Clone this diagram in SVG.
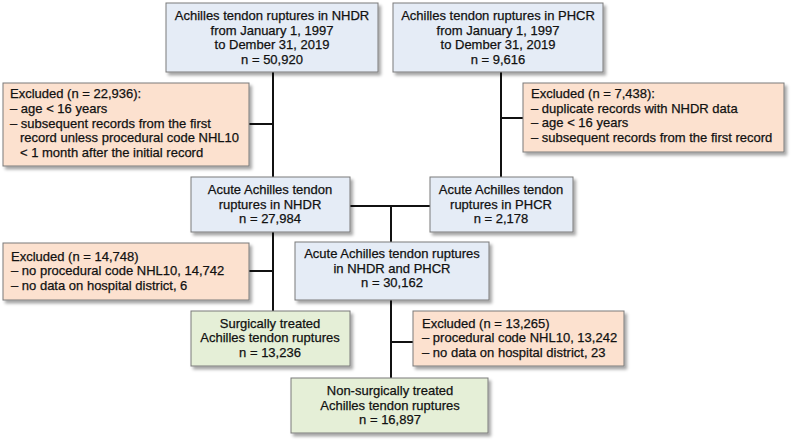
<svg xmlns="http://www.w3.org/2000/svg" width="795" height="445" viewBox="0 0 795 445">
<defs>
<filter id="sh" x="-10%" y="-10%" width="130%" height="140%">
<feDropShadow dx="2.5" dy="3" stdDeviation="1.8" flood-color="#000" flood-opacity="0.35"/>
</filter>
<style>
rect.b{fill:#e5ecf6;stroke:#7a7a7a;stroke-width:1}
rect.o{fill:#fce1cf;stroke:#7a7a7a;stroke-width:1}
rect.g{fill:#e5efd7;stroke:#7a7a7a;stroke-width:1}
text{font-family:"Liberation Sans",Arial,sans-serif;font-size:13px;fill:#111;stroke:#111;stroke-width:0.25}
.c{text-anchor:middle}
.ln{stroke:#111;stroke-width:2;fill:none}
</style>
</defs>
<rect width="795" height="445" fill="#fff"/>
<g id="connectors">
<path class="ln" d="M273 72V177M249 124H273"/>
<path class="ln" d="M501 72V177M501 118H523"/>
<path class="ln" d="M350 206H430M391 206V242"/>
<path class="ln" d="M273 232V311M249 271H273"/>
<path class="ln" d="M391 300V378M391 342H413"/>
</g>
<g id="n1">
<rect class="b" x="166" y="3" width="212" height="69" filter="url(#sh)"/>
<text class="c" x="272" y="20">Achilles tendon ruptures in NHDR</text>
<text class="c" x="272" y="35">from January 1, 1997</text>
<text class="c" x="272" y="49">to Dember 31, 2019</text>
<text class="c" x="272" y="64">n = 50,920</text>
</g>
<g id="n2">
<rect class="b" x="393" y="3" width="210" height="69" filter="url(#sh)"/>
<text class="c" x="498" y="20">Achilles tendon ruptures in PHCR</text>
<text class="c" x="498" y="35">from January 1, 1997</text>
<text class="c" x="498" y="49">to Dember 31, 2019</text>
<text class="c" x="498" y="64">n = 9,616</text>
</g>
<g id="e1">
<rect class="o" x="3" y="83" width="246" height="83" filter="url(#sh)"/>
<text x="10" y="98">Excluded (n = 22,936):</text>
<text x="10" y="113">– age &lt; 16 years</text>
<text x="10" y="128">– subsequent records from the first</text>
<text x="20" y="142">record unless procedural code NHL10</text>
<text x="20" y="157">&lt; 1 month after the initial record</text>
</g>
<g id="e2">
<rect class="o" x="523" y="83" width="261" height="69" filter="url(#sh)"/>
<text x="531" y="98">Excluded (n = 7,438):</text>
<text x="531" y="113">– duplicate records with NHDR data</text>
<text x="531" y="127">– age &lt; 16 years</text>
<text x="531" y="142">– subsequent records from the first record</text>
</g>
<g id="n3">
<rect class="b" x="191" y="177" width="159" height="55" filter="url(#sh)"/>
<text class="c" x="270" y="194">Acute Achilles tendon</text>
<text class="c" x="270" y="209">ruptures in NHDR</text>
<text class="c" x="270" y="223">n = 27,984</text>
</g>
<g id="n4">
<rect class="b" x="430" y="177" width="143" height="55" filter="url(#sh)"/>
<text class="c" x="501" y="194">Acute Achilles tendon</text>
<text class="c" x="501" y="209">ruptures in PHCR</text>
<text class="c" x="501" y="223">n = 2,178</text>
</g>
<g id="e3">
<rect class="o" x="3" y="243" width="246" height="57" filter="url(#sh)"/>
<text x="11" y="261">Excluded (n = 14,748)</text>
<text x="11" y="275">– no procedural code NHL10, 14,742</text>
<text x="11" y="290">– no data on hospital district, 6</text>
</g>
<g id="n5">
<rect class="b" x="295" y="242" width="194" height="58" filter="url(#sh)"/>
<text class="c" x="392" y="258">Acute Achilles tendon ruptures</text>
<text class="c" x="392" y="273">in NHDR and PHCR</text>
<text class="c" x="392" y="287">n = 30,162</text>
</g>
<g id="n6">
<rect class="g" x="191" y="311" width="159" height="55" filter="url(#sh)"/>
<text class="c" x="270" y="328">Surgically treated</text>
<text class="c" x="270" y="342">Achilles tendon ruptures</text>
<text class="c" x="270" y="357">n = 13,236</text>
</g>
<g id="e4">
<rect class="o" x="413" y="311" width="211" height="55" filter="url(#sh)"/>
<text x="422" y="328">Excluded (n = 13,265)</text>
<text x="422" y="342">– procedural code NHL10, 13,242</text>
<text x="422" y="357">– no data on hospital district, 23</text>
</g>
<g id="n7">
<rect class="g" x="291" y="378" width="197" height="55" filter="url(#sh)"/>
<text class="c" x="390" y="395">Non-surgically treated</text>
<text class="c" x="390" y="410">Achilles tendon ruptures</text>
<text class="c" x="390" y="424">n = 16,897</text>
</g>
</svg>
